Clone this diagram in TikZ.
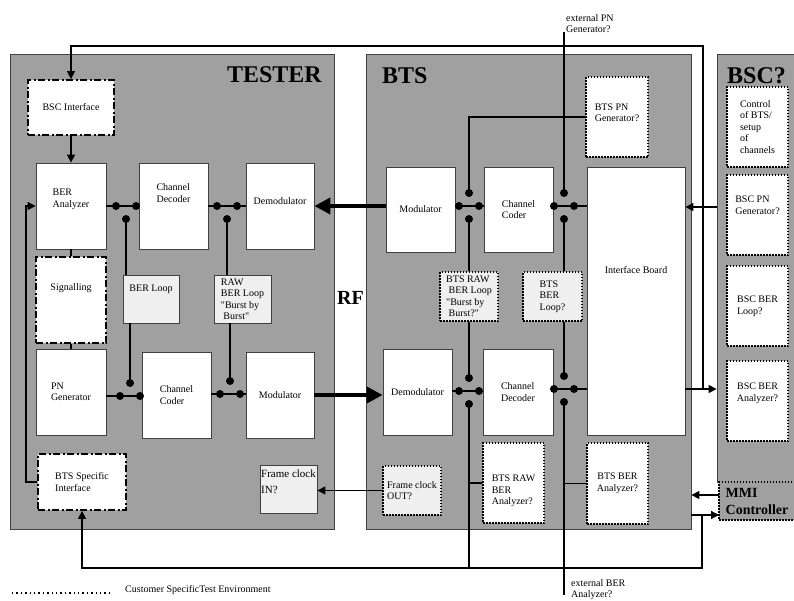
\documentclass[tikz,border=0pt]{standalone}
\usepackage{fontspec}
\setmainfont{Liberation Serif}[Ligatures=TeXOff]
\usetikzlibrary{arrows.meta}
\definecolor{framegray}{HTML}{A0A0A0}
\definecolor{edgegray}{HTML}{404040}
\definecolor{loopfill}{HTML}{EFEFEF}
\tikzset{
  unit/.style={draw=edgegray, line width=0.8pt, fill=framegray, inner sep=0pt},
  sz/.style 2 args={minimum width=#1pt, minimum height=#2pt},
  blk/.style={draw=edgegray, line width=0.8pt, fill=white, align=left, inner sep=2pt},
  loopblk/.style={blk, fill=loopfill},
  custom/.style={blk, draw=black, line width=1.5pt, dash pattern=on 1.5pt off 1.5pt},
  custloop/.style={custom, fill=loopfill},
  iface/.style={blk, draw=black, line width=1.8pt, dash pattern=on 7pt off 2.5pt on 2pt off 2.5pt},
  wire/.style={line width=1.4pt},
  arr/.style={-{Triangle[length=8pt,width=8pt]}},
  rf/.style={line width=4pt, -{Triangle[length=16pt,width=16pt]}},
  heading/.style={font=\fontsize{24}{24}\selectfont\bfseries, inner sep=0pt},
  textup/.style={text depth=#1},
  lbl/.style={align=left, inner sep=0pt}
}
\begin{document}
\begin{tikzpicture}[x=1pt, y=-1pt, font=\fontsize{10}{11.5}\selectfont]
  \useasboundingbox (0,0) rectangle (794,600);
  \clip (0,0) rectangle (794,600);

  % the three units
  \node[unit, sz={324}{475}] (tester) at (172,291.5) {};
  \node[unit, sz={325}{475}] (bts) at (528.5,291.5) {};
  \node[unit, sz={90}{428}] (bsc) at (762,268) {};
  \node[heading, anchor=base east] (testerlab) at (322,82) {TESTER};
  \node[heading, anchor=base west] (btslab) at (382,83) {BTS};
  \node[heading, anchor=base west] (bsclab) at (727,83) {BSC?};
  \node[heading, font=\fontsize{20}{20}\selectfont\bfseries, anchor=base west] (rflab) at (337,304) {RF};

  % tester
  \node[iface, sz={86}{55}] (bscif) at (71,107.5) {BSC Interface};
  \node[blk, sz={70}{86}, textup=16pt] (berana) at (71,206) {BER\\Analyzer};
  \node[blk, sz={69}{86}, textup=26pt] (tdec) at (173.5,206) {Channel\\Decoder};
  \node[blk, sz={68}{86}, textup=10pt] (tdemod) at (280,206) {Demodulator};
  \node[iface, sz={70}{86}, textup=26pt] (signal) at (71,300) {Signalling};
  \node[loopblk, sz={56}{48}, textup=22pt] (berloop) at (151,299) {BER Loop};
  \node[loopblk, sz={57}{48}, inner sep=1pt] (rawloop) at (242.5,299) {RAW\\BER Loop\\"Burst by\\\ Burst"};
  \node[blk, sz={70}{86}] (pngen) at (71,392) {PN\\Generator};
  \node[blk, sz={69}{86}] (tcoder) at (176.5,395) {Channel\\Coder};
  \node[blk, sz={68}{86}] (tmod) at (280,395) {Modulator};
  \node[iface, sz={88}{56}] (btsif) at (82,482) {BTS Specific\\Interface};
  \node[loopblk, sz={57}{48}, font=\fontsize{11}{16}\selectfont, inner sep=0.5pt, textup=14pt] (fcin) at (288.5,489) {Frame clock\\IN?};

  % bts
  \node[blk, sz={69}{85}] (bmod) at (420.5,209.5) {Modulator};
  \node[blk, sz={69}{85}] (bcoder) at (518.5,209.5) {Channel\\Coder};
  \node[blk, sz={98}{268}, textup=62pt] (ifboard) at (636,301) {Interface Board};
  \node[custom, sz={62}{80}, textup=9pt] (btspn) at (617,117) {BTS PN\\Generator?};
  \node[custloop, sz={58}{49}, inner sep=1pt] (brawloop) at (469,296.5) {BTS RAW\\\ BER Loop\\"Burst by\\\ Burst?"};
  \node[custloop, sz={59}{49}] (bberloop) at (552.5,296.5) {BTS\\BER\\Loop?};
  \node[blk, sz={69}{86}] (bdemod) at (417.5,392) {Demodulator};
  \node[blk, sz={70}{86}] (bdec) at (518,392) {Channel\\Decoder};
  \node[custloop, sz={58}{49}, inner sep=1pt] (fcout) at (412,490.5) {Frame clock\\OUT?};
  \node[custom, sz={61}{80}, text height=46pt] (brawana) at (513.5,483) {BTS RAW\\BER\\Analyzer?};
  \node[custom, sz={61}{81}, align=center] (bberana) at (617.5,483.5) {BTS BER\\Analyzer?};

  % bsc
  \node[custom, sz={61}{80}] (ctrl) at (757.5,127) {Control\\of BTS/\\setup\\of\\channels};
  \node[custom, sz={61}{80}, textup=20pt] (bscpn) at (757.5,215) {BSC PN\\Generator?};
  \node[custom, sz={61}{80}] (bscloop) at (757.5,306) {BSC BER\\Loop?};
  \node[custom, sz={61}{80}, textup=18pt, align=center] (bscana) at (757.5,401) {BSC BER\\Analyzer?};
  \node[custom, fill=framegray, sz={76}{38}, font=\fontsize{14}{17}\selectfont\bfseries] (mmi) at (757,501) {MMI\\Controller};

  % outside labels
  \node[lbl, anchor=south west] (extpn) at (566,33) {external PN\\Generator?};
  \node[lbl, anchor=north west] (extber) at (571,579) {external BER\\Analyzer?};
  \node[lbl, anchor=west] (legend) at (125,590) {Customer SpecificTest Environment};

  % switch points
  \foreach \j/\x/\y in {tj1/126/206, tj2/227/206, tj3/130/396, tj4/230/394,
                        bj1/469/206, bj2/564/206, bj3/469/391, bj4/564/389}{
    \coordinate (\j) at (\x,\y);
    \coordinate (\j w) at (\x-10,\y);
    \coordinate (\j e) at (\x+10,\y);
    \coordinate (\j n) at (\x,\y-13);
    \coordinate (\j s) at (\x,\y+13);
  }
  \coordinate (bustop) at (703,46);
  \coordinate (busturn) at (702,568);
  \coordinate (pnin) at (717,207);
  \coordinate (mmiin) at (719,495);
  \coordinate (mmiout) at (719,515);
  \coordinate (extpntop) at (564,32);
  \coordinate (extberend) at (564,595);
  \coordinate (legA) at (12,593);

  % tester wiring
  \draw[wire] (berana.east |- tj1) -- (tdec.west |- tj1);
  \draw[wire] (tj1s) -- (berloop.north -| tj1s);
  \draw[wire] (tdec.east |- tj2) -- (tdemod.west |- tj2);
  \draw[wire] (tj2s) -- (rawloop.north -| tj2s);
  \draw[wire] (pngen.east |- tj3) -- (tcoder.west |- tj3);
  \draw[wire] (berloop.south -| tj3n) -- (tj3n);
  \draw[wire] (tcoder.east |- tj4) -- (tmod.west |- tj4);
  \draw[wire] (rawloop.south -| tj4n) -- (tj4n);
  \draw[wire, arr] (bscif) -- (berana);
  \draw[wire] (berana) -- (signal);
  \draw[wire] (signal) -- (pngen);
  \draw[wire, arr] (btsif.west) -- ++(-11,0) |- (berana.west);
  \draw[wire, arr] (fcout.west) -- (fcin.east |- fcout.west);

  % rf links
  \draw[rf] (bmod.west |- tdemod) -- (tdemod.east);
  \draw[rf] (tmod.east) -- (bdemod.west |- tmod.east);

  % bts wiring
  \draw[wire] (bmod.east |- bj1) -- (bcoder.west |- bj1);
  \draw[wire] (btspn.west) -| (bj1n);
  \draw[wire] (bj1s) -- (brawloop.north -| bj1s);
  \draw[wire] (brawloop.south -| bj3n) -- (bj3n);
  \draw[wire] (bcoder.east |- bj2) -- (ifboard.west |- bj2);
  \draw[wire] (extpntop) -- (bj2n);
  \draw[wire] (bj2s) -- (bberloop.north -| bj2s);
  \draw[wire] (bberloop.south -| bj4n) -- (bj4n);
  \draw[wire] (bdemod.east |- bj3) -- (bdec.west |- bj3);
  \draw[wire] (bdec.east |- bj4) -- (ifboard.west |- bj4);
  \draw[wire] (bj3s) -- (bj3s |- busturn);
  \draw[wire] (bj3s |- brawana.west) -- (brawana.west);
  \draw[wire] (bj4s) -- (extberend);
  \draw[wire] (bj4s |- bberana.west) -- (bberana.west);

  % bsc and mmi wiring
  \draw[wire, arr] (bustop |- bj4) -- (bustop) -| (bscif.north);
  \draw[wire, arr] (ifboard.east |- bj4) -- (bsc.west |- bj4);
  \draw[wire, arr] (pnin) -- (ifboard.east |- pnin);
  \draw[wire, arr] (mmiin) -- (bts.east |- mmiin);
  \draw[wire, arr] (bts.east |- mmiout) -- (mmiout);
  \draw[wire, arr] (busturn |- mmiout) -- (busturn) -| (btsif.south);

  \foreach \p in {tj1w,tj1e,tj1s,tj2w,tj2e,tj2s,tj3w,tj3e,tj3n,tj4w,tj4e,tj4n,
                  bj1w,bj1e,bj1n,bj1s,bj2w,bj2e,bj2n,bj2s,bj3w,bj3e,bj3n,bj3s,bj4w,bj4e,bj4n,bj4s}
    \fill (\p) circle (4pt);

  % legend
  \draw[line width=1.4pt, dash pattern=on 1.4pt off 3pt] (legA) -- ++(98,0);
\end{tikzpicture}
\end{document}
